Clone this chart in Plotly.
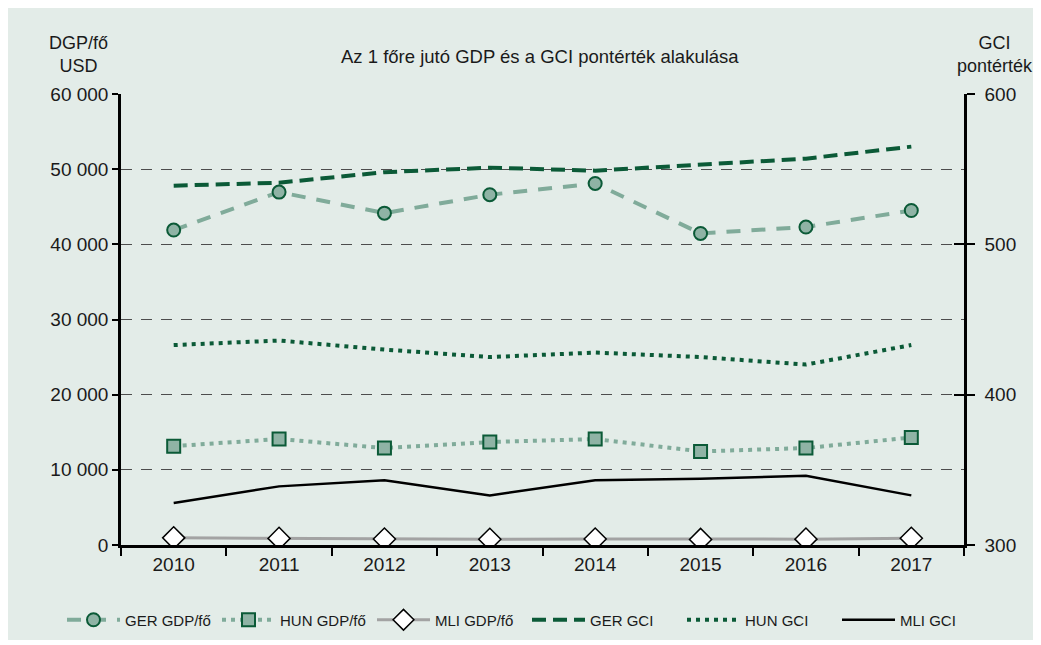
import plotly.graph_objects as go

years = ["2010", "2011", "2012", "2013", "2014", "2015", "2016", "2017"]
ger_gdp = [41900, 46950, 44150, 46600, 48100, 41450, 42300, 44500]
hun_gdp = [13150, 14100, 12900, 13700, 14100, 12450, 12900, 14300]
mli_gdp = [950, 880, 790, 760, 790, 740, 780, 900]
ger_gci = [539, 541, 548, 551, 549, 553, 557, 565]
hun_gci = [433, 436, 430, 425, 428, 425, 420, 433]
mli_gci = [328, 339, 343, 333, 343, 344, 346, 333]

left_ticks = [0, 10000, 20000, 30000, 40000, 50000, 60000]
left_ticktext = ["0", "10 000", "20 000", "30 000", "40 000", "50 000", "60 000"]
right_ticks = [300, 400, 500, 600]

BG = "#e3ece8"
DARK = "#0b5a37"
MID = "#80ab9a"
FILL = "#8fb3a5"
REG = "Liberation Sans, Arial, sans-serif"

# page body has an 8px margin: figure coordinates = screen - 8
OFF = 8
W, H = 1041 - OFF - 5, 645 - OFF - 5
L = 121 - OFF
T = 94 - OFF
R = W - (964 - OFF)
B = H - (545 - OFF)
pw, ph = W - L - R, H - T - B


def px_x(sx):
    return (sx - OFF - L) / pw


def px_y(sy):
    return (H - B - (sy - OFF)) / ph


fig = go.Figure()
fig.add_trace(go.Scatter(x=years, y=ger_gdp, name="GER GDP/fő", mode="lines+markers",
                         line=dict(color=MID, width=4, dash="14px,11px"),
                         marker=dict(symbol="circle", size=13, color=FILL, line=dict(color=DARK, width=2))))
fig.add_trace(go.Scatter(x=years, y=hun_gdp, name="HUN GDP/fő", mode="lines+markers",
                         line=dict(color=MID, width=4, dash="4px,5px"),
                         marker=dict(symbol="square", size=13, color=FILL, line=dict(color=DARK, width=2))))
fig.add_trace(go.Scatter(x=years, y=mli_gdp, name="MLI GDP/fő", mode="lines+markers",
                         line=dict(color="#a3a3a3", width=3),
                         marker=dict(symbol="diamond", size=17, color="white", line=dict(color="black", width=1.5))))
fig.add_trace(go.Scatter(x=years, y=ger_gci, name="GER GCI", mode="lines", yaxis="y2",
                         line=dict(color=DARK, width=4, dash="14px,7px")))
fig.add_trace(go.Scatter(x=years, y=hun_gci, name="HUN GCI", mode="lines", yaxis="y2",
                         line=dict(color=DARK, width=4, dash="4px,5px")))
fig.add_trace(go.Scatter(x=years, y=mli_gci, name="MLI GCI", mode="lines", yaxis="y2",
                         line=dict(color="black", width=2.5)))
# helper axis for the inward half of the crossing right-axis ticks
fig.add_trace(go.Scatter(x=[], y=[], yaxis="y3", showlegend=False, hoverinfo="skip"))

fig.update_layout(
    width=W, height=H, autosize=False,
    margin=dict(l=L, r=R, t=T, b=B, autoexpand=False),
    paper_bgcolor=BG, plot_bgcolor=BG,
    font=dict(family=REG, size=18, color="#1a1a1a"),
    showlegend=True,
    legend=dict(orientation="h", x=px_x(62), xanchor="left", y=px_y(620), yanchor="middle",
                font=dict(family=REG, size=15), bgcolor="rgba(0,0,0,0)", itemwidth=53,
                entrywidth=87, entrywidthmode="pixels"),
    xaxis=dict(type="category", range=[-0.5, 7.5], showline=True, linecolor="black", linewidth=2.5,
               ticks="outside", tickson="boundaries", ticklen=8, tickwidth=2, tickcolor="black",
               showgrid=False, tickfont=dict(size=19)),
    yaxis=dict(range=[0, 60000], tickvals=left_ticks, ticktext=left_ticktext, showline=True,
               linecolor="black", linewidth=2.5, ticks="outside", ticklen=6, tickwidth=2, tickcolor="black",
               showgrid=True, gridcolor="#4d4d4d", griddash="11px,9px", gridwidth=1, zeroline=False,
               tickfont=dict(size=19)),
    yaxis2=dict(range=[300, 600], tickvals=right_ticks, overlaying="y", side="right", showline=True,
                linecolor="black", linewidth=2.5, ticks="outside", ticklen=8, tickwidth=1.5, tickcolor="black",
                showgrid=False, zeroline=False, tickfont=dict(size=19), ticklabelstandoff=6),
    yaxis3=dict(range=[300, 600], tickvals=right_ticks, overlaying="y", side="right", showline=False,
                ticks="inside", ticklen=10, tickwidth=1.5, tickcolor="black", showticklabels=False,
                showgrid=False, zeroline=False),
)

fig.add_annotation(text="Az 1 főre jutó GDP és a GCI pontérték alakulása", xref="paper", yref="paper",
                   x=px_x(540), y=px_y(56), xanchor="center", yanchor="middle", showarrow=False,
                   font=dict(size=18.5))
fig.add_annotation(text="DGP/fő<br>USD", xref="paper", yref="paper", x=px_x(78), y=px_y(54),
                   xanchor="center", yanchor="middle", showarrow=False, font=dict(size=18), align="center")
fig.add_annotation(text="GCI<br>pontérték", xref="paper", yref="paper", x=px_x(995), y=px_y(54),
                   xanchor="center", yanchor="middle", showarrow=False, font=dict(size=18), align="center")

fig.write_html("out.html")
